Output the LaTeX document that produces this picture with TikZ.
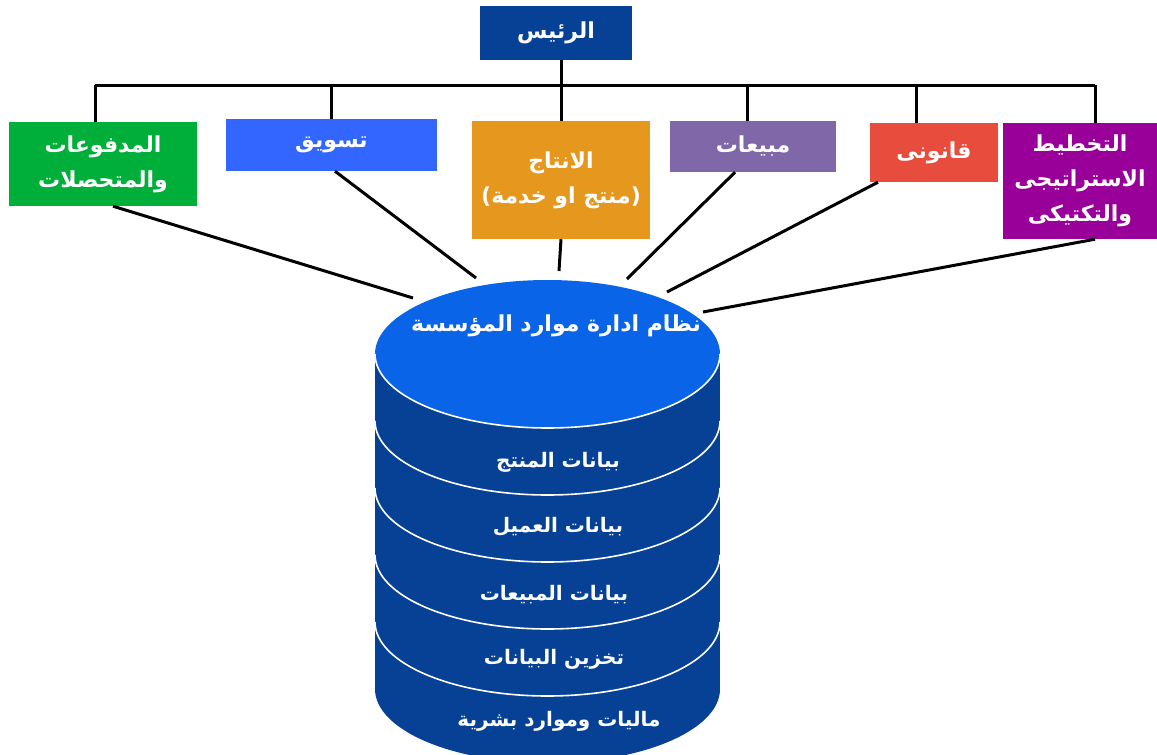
\documentclass[tikz,border=0pt]{standalone}
\usepackage{fontspec}
\newfontfamily\arabicfont[Script=Arabic]{DejaVu Sans}
\TeXXeTstate=1
\newcommand\AR[1]{\beginR #1\endR}
\definecolor{chief}{RGB}{6,65,150}
\definecolor{cgreen}{RGB}{0,175,58}
\definecolor{cblue}{RGB}{51,102,255}
\definecolor{corange}{RGB}{230,152,30}
\definecolor{cpurple}{RGB}{128,104,168}
\definecolor{cred}{RGB}{232,76,61}
\definecolor{cmagenta}{RGB}{153,0,153}
\definecolor{cyltop}{RGB}{10,100,232}
\definecolor{cylbody}{RGB}{6,65,150}
\begin{document}
\begin{tikzpicture}[x=1pt,y=-1pt,
  box/.style={rectangle, inner sep=0pt, text=white, align=center,
    font=\arabicfont\bfseries\fontsize{22}{35}\selectfont},
  wire/.style={line width=3pt, black},
  cyltitle/.style={text=white, font=\arabicfont\bfseries\fontsize{22}{26}\selectfont},
  cyltext/.style={text=white, font=\arabicfont\bfseries\fontsize{20}{24}\selectfont},
  band/.style={white, line width=1.6pt}]
\useasboundingbox (0,0) rectangle (1157,755);
\clip (0,0) rectangle (1157,755);

% boxes
\node[box, fill=chief, minimum width=152pt, minimum height=54pt] (top) at (556,33) {\AR{الرئيس}};
\node[box, fill=cgreen, minimum width=188pt, minimum height=84pt] (pay) at (103,164) {\AR{المدفوعات}\\\AR{والمتحصلات}};
\node[box, fill=cblue, minimum width=211pt, minimum height=52pt] (mkt) at (331.5,145) {\AR{تسويق}};
\node[box, fill=corange, minimum width=178pt, minimum height=118pt] (prod) at (561,180) {\AR{الانتاج}\\\AR{(منتج او خدمة)}};
\node[box, fill=cpurple, minimum width=166pt, minimum height=51pt] (sales) at (753,146.5) {\AR{مبيعات}};
\node[box, fill=cred, minimum width=128pt, minimum height=59pt] (legal) at (934,152.5) {\AR{قانونى}};
\node[box, fill=cmagenta, minimum width=154pt, minimum height=116pt] (plan) at (1080,181) {\AR{التخطيط}\\\AR{الاستراتيجى}\\\AR{والتكتيكى}};

% bus
\coordinate (b1) at (95,85);
\coordinate (b2) at (331,85);
\coordinate (b3) at (561,85);
\coordinate (b4) at (747,85);
\coordinate (b5) at (916,85);
\coordinate (b6) at (1095,85);
\draw[wire] (b1) -- (b6);
\draw[wire] (top.south -| b3) -- (prod.north -| b3);
\draw[wire] (b1) -- (pay.north -| b1);
\draw[wire] (b2) -- (mkt.north -| b2);
\draw[wire] (b4) -- (sales.north -| b4);
\draw[wire] (b5) -- (legal.north -| b5);
\draw[wire] (b6) -- (plan.north -| b6);

% cylinder
\fill[cylbody] (375,354) rectangle (720,689);
\fill[cylbody] (547.5,689) ellipse [x radius=172.5pt, y radius=74pt];
\foreach \k in {1,2,3,4}{
  \draw[band] (375,354+67*\k) arc [start angle=180, end angle=360, x radius=172.5pt, y radius=74pt];
}
\fill[cyltop] (547.5,354) ellipse [x radius=172.5pt, y radius=74pt];
\draw[band] (375,354) arc [start angle=180, end angle=360, x radius=172.5pt, y radius=74pt];

\node[cyltitle] (erp) at (556,326) {\AR{نظام ادارة موارد المؤسسة}};
\node[cyltext] (d1) at (558,462) {\AR{بيانات المنتج}};
\node[cyltext] (d2) at (558,527) {\AR{بيانات العميل}};
\node[cyltext] (d3) at (554,595) {\AR{بيانات المبيعات}};
\node[cyltext] (d4) at (554,659) {\AR{تخزين البيانات}};
\node[cyltext] (d5) at (559,721) {\AR{ماليات وموارد بشرية}};

% connectors to cylinder
\coordinate (c1) at (413,298);
\coordinate (c2) at (476,278);
\coordinate (c3) at (559,271);
\coordinate (c4) at (627,279);
\coordinate (c5) at (667,292);
\coordinate (c6) at (703,312);
\draw[wire] (pay.south -| 113,0) -- (c1);
\draw[wire] (mkt.south -| 335,0) -- (c2);
\draw[wire] (prod.south) -- (c3);
\draw[wire] (sales.south -| 735,0) -- (c4);
\draw[wire] (legal.south -| 878,0) -- (c5);
\draw[wire] (plan.south -| 1095,0) -- (c6);
\end{tikzpicture}
\end{document}
